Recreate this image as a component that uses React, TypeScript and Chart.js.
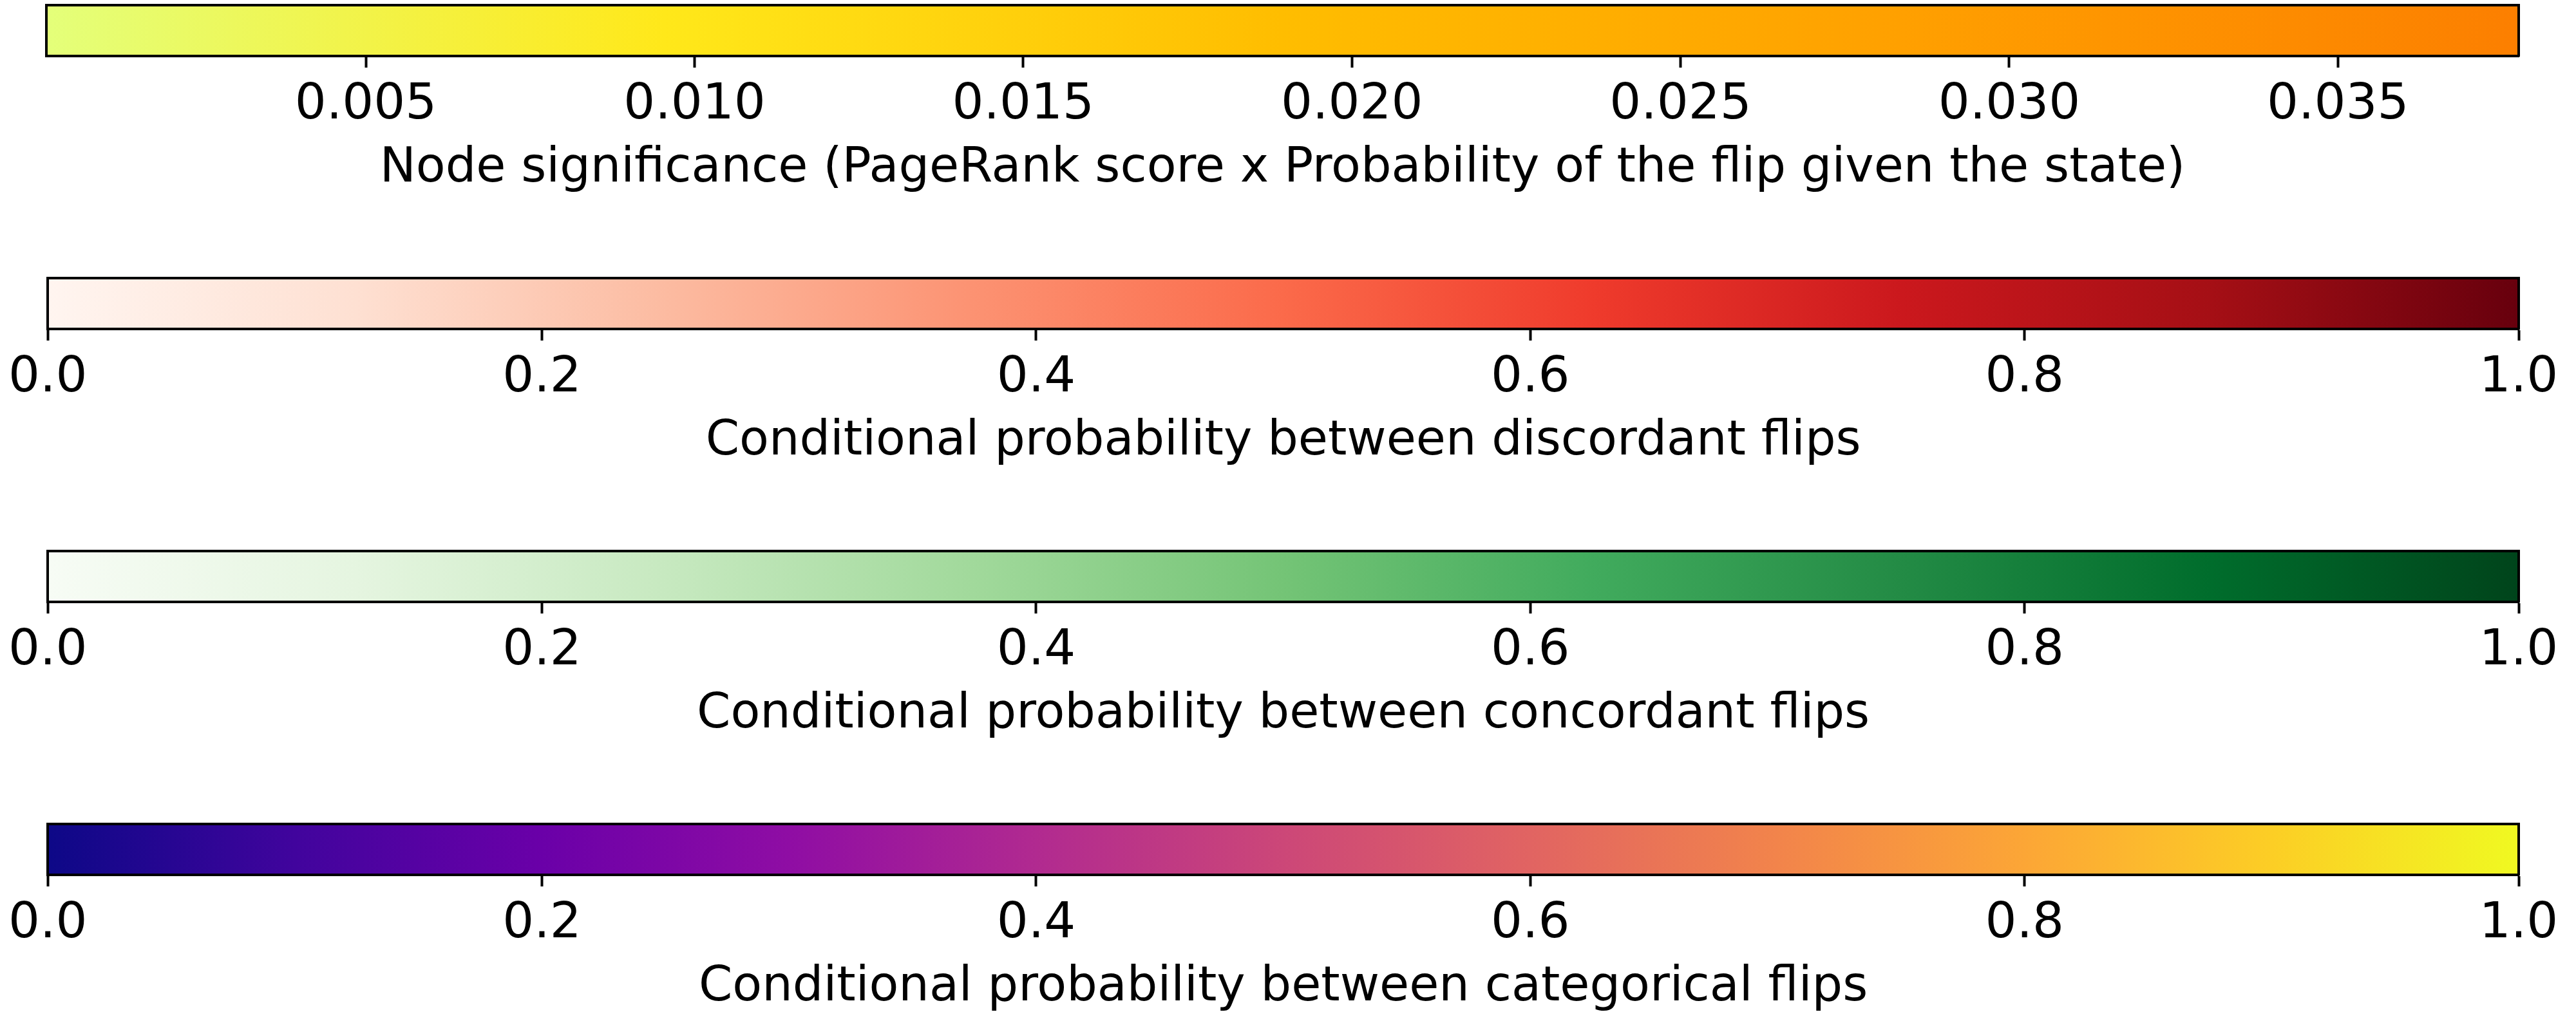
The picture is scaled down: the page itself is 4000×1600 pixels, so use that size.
import React, { useEffect, useRef } from "react";
import { Chart, registerables } from "chart.js";

Chart.register(...registerables);

// ---- data ----
const BAR_TITLES = [
  "Node significance (PageRank score x Probability of the flip given the state)",
  "Conditional probability between discordant flips",
  "Conditional probability between concordant flips",
  "Conditional probability between categorical flips",
];
const SIGNIFICANCE_RANGE = [0.00014, 0.03775];
const SIGNIFICANCE_TICKS = [0.005, 0.01, 0.015, 0.02, 0.025, 0.03, 0.035];
const PROBABILITY_RANGE = [0, 1];
const PROBABILITY_TICKS = [0, 0.2, 0.4, 0.6, 0.8, 1.0];
const BAR_RANGES = [SIGNIFICANCE_RANGE, PROBABILITY_RANGE, PROBABILITY_RANGE, PROBABILITY_RANGE];
const BAR_TICKS = [SIGNIFICANCE_TICKS, PROBABILITY_TICKS, PROBABILITY_TICKS, PROBABILITY_TICKS];
const TICK_DECIMALS = [3, 1, 1, 1];

// ---- colormaps (styling) ----
const WISTIA = ["#e4ff7a", "#ffe81a", "#ffbd00", "#ffa000", "#fc7f00"];
const REDS = ["#fff5f0", "#fee0d2", "#fcbba1", "#fc9272", "#fb6a4a", "#ef3b2c", "#cb181d", "#a50f15", "#67000d"];
const GREENS = ["#f7fcf5", "#e5f5e0", "#c7e9c0", "#a1d99b", "#74c476", "#41ab5d", "#238b45", "#006d2c", "#00441b"];
const PLASMA = ["#0d0887", "#41049d", "#6a00a8", "#8f0da4", "#b12a90", "#cc4778", "#e16462", "#f2844b", "#fca636", "#fcce25", "#f0f921"];
const COLORMAPS = [WISTIA, REDS, GREENS, PLASMA];

// ---- layout ----
const CANVAS_W = 4000;
const PANEL_STEP = 424;
const PANEL_H = 330;
const AREA_TOP = 8;
const AREA_BOTTOM = 87;
const AREA_LEFT = 72;
const AREA_RIGHT = 3911;
const TICK_FONT_SIZE = 77;
const TITLE_FONT_SIZE = 75;
const FONT_FAMILY = "'DejaVu Sans', sans-serif";

function ColorBar({ index }: { index: number }) {
  const ref = useRef<HTMLCanvasElement | null>(null);
  useEffect(() => {
    const canvas = ref.current;
    if (!canvas) return;
    const range = BAR_RANGES[index];
    const ticks = BAR_TICKS[index];
    const stops = COLORMAPS[index];
    const decimals = TICK_DECIMALS[index];
    const borderStyle = { display: true, color: "#000000", width: 4, z: 1 };
    const chart = new Chart(canvas, {
      type: "bar",
      data: {
        labels: [""],
        datasets: [
          {
            data: [[range[0], range[1]]] as any,
            borderWidth: 0,
            barPercentage: 1,
            categoryPercentage: 1,
            backgroundColor: (ctx: any) => {
              const area = ctx.chart.chartArea;
              if (!area) return "transparent";
              const g = ctx.chart.ctx.createLinearGradient(area.left, 0, area.right, 0);
              stops.forEach((c, i) => g.addColorStop(i / (stops.length - 1), c));
              return g;
            },
          },
        ],
      },
      options: {
        indexAxis: "y",
        responsive: false,
        maintainAspectRatio: false,
        animation: false,
        events: [],
        layout: {
          padding: {
            left: AREA_LEFT,
            right: CANVAS_W - AREA_RIGHT,
            top: AREA_TOP,
            bottom: 0,
          },
        },
        plugins: {
          legend: { display: false },
          tooltip: { enabled: false },
          title: { display: false },
        },
        scales: {
          x: {
            type: "linear",
            position: "bottom",
            min: range[0],
            max: range[1],
            z: 1,
            border: borderStyle,
            grid: {
              display: true,
              drawOnChartArea: false,
              drawTicks: true,
              tickLength: 18,
              tickWidth: 4,
              tickColor: "#000000",
            },
            ticks: {
              autoSkip: false,
              maxRotation: 0,
              minRotation: 0,
              padding: 13,
              color: "#000000",
              font: { family: FONT_FAMILY, size: TICK_FONT_SIZE },
              callback: (v: any) => Number(v).toFixed(decimals),
            },
            afterBuildTicks: (scale: any) => {
              scale.ticks = ticks.map((v) => ({ value: v }));
            },
            afterFit: (scale: any) => {
              scale.height = PANEL_H - AREA_BOTTOM;
            },
            title: {
              display: true,
              text: BAR_TITLES[index],
              color: "#000000",
              font: { family: FONT_FAMILY, size: TITLE_FONT_SIZE },
              padding: { top: 0, bottom: 22 },
            },
          },
          x2: {
            type: "linear",
            axis: "x",
            position: "top",
            min: range[0],
            max: range[1],
            z: 1,
            border: borderStyle,
            grid: { display: false, drawTicks: false },
            ticks: { display: false },
          },
          y: {
            type: "category",
            position: "left",
            z: 1,
            border: borderStyle,
            grid: { display: false, drawTicks: false },
            ticks: { display: false },
          },
          y2: {
            type: "linear",
            axis: "y",
            position: "right",
            min: 0,
            max: 1,
            z: 1,
            border: borderStyle,
            grid: { display: false, drawTicks: false },
            ticks: { display: false },
          },
        },
      } as any,
    });
    return () => chart.destroy();
  }, [index]);

  return (
    <div
      style={{
        position: "absolute",
        left: 0,
        top: index * PANEL_STEP,
        width: CANVAS_W,
        height: PANEL_H,
      }}
    >
      <canvas
        ref={ref}
        width={CANVAS_W}
        height={PANEL_H}
        style={{ width: CANVAS_W, height: PANEL_H, display: "block" }}
      />
    </div>
  );
}

export default function App() {
  return (
    <div
      style={{
        position: "absolute",
        left: 0,
        top: 0,
        width: CANVAS_W,
        height: 1600,
        overflow: "hidden",
        background: "#ffffff",
      }}
    >
      {BAR_TITLES.map((_, i) => (
        <ColorBar key={i} index={i} />
      ))}
    </div>
  );
}
